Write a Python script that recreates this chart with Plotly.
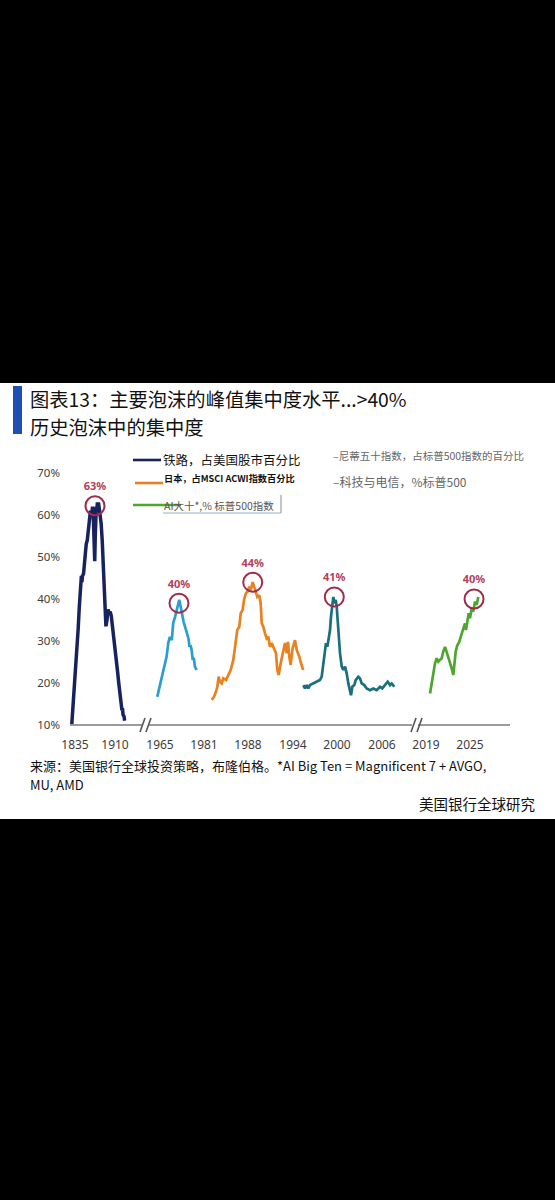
import plotly.graph_objects as go

# ---------------- data ----------------
rail_years = [1829,1830,1831,1832,1833,1835,1837,1839,1841,1843,1845,1846,1847,1848,1849,1851,1853,1855,1856,1858,
              1860,1862,1864,1866,1868,1869,1870,1871,1872,1873,1874,1875,1876,1877,1878,1879,1880,1882,1884,1886,
              1888,1890,1892,1893,1895,1897,1899,1901,1903,1905,1907,1909,1911,1913,1915,1917,1919,1920,1921,1922,
              1923,1924,1925,1927,1928]
rail_vals = [10.2,12,15,16.5,17,20,25,29,33,38,43,44.5,45.5,44,45.5,46,49,51.5,53,54,
             57,59,61,60,62,61,56,50,49,55,60,62,61,63,62,63,62,61,58,54,
             48,41,34,33.5,35,37.5,36.5,37,36,34,31,29,27,25,22.5,20,17.5,17,16,14,
             13.5,14,12.5,12,11]

nifty_years = [1964.0,1964.6,1965.2,1965.6,1966.2,1966.8,1967.4,1968.0,1968.6,1969.3,1969.8,1970.5,1971.1,1971.7,1972.0,
               1972.5,1973.1,1973.6,1974.1,1974.5,1974.9,1975.4,1975.7,1976.1,1976.5,1976.9,1977.3,1977.7,1978.3]
nifty_vals = [16.7,18.5,19.5,20.7,23,24.8,26.3,29.5,31,30.2,34.3,35.8,37.4,38.6,39.8,
              38.2,35.8,34.5,33.4,32.5,31.8,30.5,28.6,29,27.9,25.5,26,23.9,23.1]

japan_years = [1983.16,1983.47,1983.73,1983.91,1984.09,1984.27,1984.49,1984.71,1985.07,1985.37,1985.69,1986.04,1986.4,
               1986.57,1986.84,1987.03,1987.29,1987.47,1987.73,1987.91,1988.17,1988.36,1988.63,1988.84,1989.07,1989.24,
               1989.51,1989.69,1989.83,1990.04,1990.27,1990.49,1990.71,1990.93,1991.16,1991.47,1991.73,1991.91,1992.09,
               1992.36,1992.63,1992.93,1993.16,1993.33,1993.51,1993.69,1993.96,1994.27,1994.49,1994.84,1995.07,1995.37]
japan_vals = [16.0,16.7,17.9,19.1,21.5,20.3,19.9,21.1,20.7,21.9,23.1,25.5,30.2,
              32.6,33.4,36.6,37.4,39.8,41.4,41.7,42.9,42.1,44.0,42.9,41.7,40.5,
              40.9,39.0,34.2,33.4,31.8,30.6,31.0,28.6,29.5,27.9,27.1,23.1,21.9,
              24.7,27.1,29.5,27.1,29.8,26.3,24.3,28.3,30.2,27.9,26.3,24.7,23.1]

tech_years = [1995.51,1995.73,1995.96,1996.17,1996.4,1996.84,1997.29,1997.73,1997.96,1998.17,1998.4,1998.53,1998.71,
              1998.84,1999.07,1999.2,1999.37,1999.51,1999.64,1999.83,1999.96,2000.09,2000.27,2000.4,2000.63,2000.84,
              2001.07,2001.29,2001.51,2001.73,2001.87,2002.04,2002.31,2002.49,2002.84,2003.07,2003.29,2003.64,2003.96,
              2004.4,2004.84,2005.29,2005.73,2006.04,2006.4,2006.76,2007.07,2007.29,2007.64]
tech_vals = [19.5,18.7,19.5,18.7,19.5,19.9,20.3,20.7,21.5,24.7,27.9,29.5,28.6,
             30.2,32.6,35.8,39.0,40.5,39.0,39.8,38.2,35.0,31.0,27.1,23.9,23.1,
             23.9,22.3,19.9,17.9,17.1,19.1,19.5,20.7,21.5,21.1,19.9,19.5,18.7,
             18.3,18.7,18.3,19.1,18.7,19.5,20.3,19.5,19.9,19.1]

ai_years = [2019.55,2019.78,2020.0,2020.23,2020.46,2020.68,2020.91,2021.14,2021.36,2021.59,2021.73,2021.96,2022.18,
            2022.5,2022.72,2022.86,2023.05,2023.27,2023.54,2023.73,2023.95,2024.09,2024.32,2024.45,2024.63,2024.82,
            2025.0,2025.23,2025.45,2025.68,2025.91,2026.13]
ai_vals = [17.5,20.3,22.7,24.7,25.9,25.1,25.5,25.9,27.5,28.6,27.9,26.7,25.1,
           23.5,21.9,25.1,27.5,29.0,29.8,31.0,32.2,33.4,34.2,32.6,35.0,36.6,
           35.4,37.8,37.0,39.4,38.6,40.5]

# peak markers (year, value, label)
peak_years = [1872.5, 1971.9, 1988.63, 1999.64, 2025.55]
peak_vals = [62.2, 39.0, 44.0, 40.5, 40.0]
peak_labels = ["63%", "40%", "44%", "41%", "40%"]

# x tick labels per segment
seg_ticks = [[1835, 1910], [1965, 1981], [1988, 1994], [2000, 2006], [2019, 2025]]
y_ticks = [10, 20, 30, 40, 50, 60, 70]
y_ticklabels = ["10%", "20%", "30%", "40%", "50%", "60%", "70%"]

# ---------------- layout constants ----------------
W, H = 555, 1200
def X(px): return px / W
def Y(py): return 1 - py / H

# pixel positions of the two tick labels in each segment, and segment domains (px)
seg_tick_px = [[75, 115], [160, 204], [248, 293], [337, 382], [426, 470]]
seg_dom_px = [[64, 140], [150, 208], [205, 306], [300, 402], [420, 510]]

colors = ["#18225f", "#2c9dd0", "#e8811f", "#1a6f7f", "#4ea62f"]
widths = [3.5, 2.7, 2.7, 2.7, 2.7]
CIRC = "#9f2c4c"
LBL = "#b3405d"
FONT = "Noto Sans CJK SC, Noto Sans, sans-serif"

series = [(rail_years, rail_vals), (nifty_years, nifty_vals), (japan_years, japan_vals),
          (tech_years, tech_vals), (ai_years, ai_vals)]

fig = go.Figure()
axnames = ["x", "x2", "x3", "x4", "x5"]
for i, (yrs, vals) in enumerate(series):
    fig.add_trace(go.Scatter(x=yrs, y=vals, mode="lines", xaxis=axnames[i], yaxis="y",
                             line=dict(color=colors[i], width=widths[i]), showlegend=False,
                             hoverinfo="skip"))
for i in range(5):
    fig.add_trace(go.Scatter(x=[peak_years[i]], y=[peak_vals[i]], mode="markers+text",
                             xaxis=axnames[i], yaxis="y", text=[peak_labels[i]],
                             textposition="top center", cliponaxis=False,
                             textfont=dict(family="Noto Sans, sans-serif", size=11, color=LBL, weight="bold"),
                             marker=dict(symbol="circle-open", size=19, color=CIRC, line=dict(width=2, color=CIRC)),
                             showlegend=False, hoverinfo="skip"))

layout = dict(
    width=W, height=H, template="none",
    margin=dict(l=0, r=0, t=0, b=0, autoexpand=False),
    paper_bgcolor="#000000", plot_bgcolor="rgba(0,0,0,0)",
    showlegend=False, font=dict(family=FONT),
    yaxis=dict(domain=[Y(725), Y(473)], range=[10, 70], tickvals=y_ticks, ticktext=y_ticklabels,
               showgrid=False, zeroline=False, showline=False, ticks="", anchor="free", position=X(60),
               tickfont=dict(family="Noto Sans, sans-serif", size=11.5, color="#3d3d3d"), automargin=False),
)
for i in range(5):
    (t1, t2), (p1, p2), (d0, d1) = seg_ticks[i], seg_tick_px[i], seg_dom_px[i]
    k = (t2 - t1) / (p2 - p1)
    rng = [t1 + (d0 - p1) * k, t1 + (d1 - p1) * k]
    key = "xaxis" if i == 0 else f"xaxis{i+1}"
    layout[key] = dict(domain=[X(d0), X(d1)], range=rng, anchor="y", tickvals=seg_ticks[i],
                       ticktext=[str(t) for t in seg_ticks[i]], showgrid=False, zeroline=False,
                       showline=False, ticks="", ticklabelstandoff=11, automargin=False,
                       tickfont=dict(family="Noto Sans, sans-serif", size=12, color="#3d3d3d"))
fig.update_layout(**layout)

shapes = []
# white panel
shapes.append(dict(type="rect", xref="paper", yref="paper", x0=0, x1=1, y0=Y(819), y1=Y(383),
                   fillcolor="white", line=dict(width=0), layer="below"))
# title bar
shapes.append(dict(type="rect", xref="paper", yref="paper", x0=X(13), x1=X(22), y0=Y(434), y1=Y(386),
                   fillcolor="#1f4eb4", line=dict(width=0), layer="below"))
# axis line with breaks
AX = "#7a7a7a"
for a, b in [(70, 143), (149, 412), (418, 510)]:
    shapes.append(dict(type="line", xref="paper", yref="paper", x0=X(a), x1=X(b), y0=Y(725), y1=Y(725),
                       line=dict(color=AX, width=1.6)))
for bx in [(140, 146), (411, 417)]:
    for s in bx:
        shapes.append(dict(type="line", xref="paper", yref="paper", x0=X(s), x1=X(s + 5), y0=Y(732), y1=Y(718),
                           line=dict(color="#555", width=1.6)))
# legend lines
for (x0, x1, yy, c) in [(133, 161, 460, colors[0]), (135, 163, 483, colors[2]), (133, 181, 505, colors[4])]:
    shapes.append(dict(type="line", xref="paper", yref="paper", x0=X(x0), x1=X(x1), y0=Y(yy), y1=Y(yy),
                       line=dict(color=c, width=2.6), layer="above"))
# faint text box around AI legend entry
shapes.append(dict(type="line", xref="paper", yref="paper", x0=X(163), x1=X(281), y0=Y(513), y1=Y(513),
                   line=dict(color="#c9d6e3", width=2)))
shapes.append(dict(type="line", xref="paper", yref="paper", x0=X(281), x1=X(281), y0=Y(513), y1=Y(495),
                   line=dict(color="#a7b2bf", width=1.5)))
fig.update_layout(shapes=shapes)

ann = []
def text(px, py, s, size, color="#111", xanchor="left", weight="normal", family=FONT, align="left"):
    ann.append(dict(xref="paper", yref="paper", x=X(px), y=Y(py), text=s, showarrow=False,
                    xanchor=xanchor, yanchor="middle", align=align,
                    font=dict(family=family, size=size, color=color, weight=weight)))

text(28, 399, "图表13：主要泡沫的峰值集中度水平...&gt;40%", 19.3)
text(28, 427, "历史泡沫中的集中度", 19.3)
text(161, 460, "铁路，占美国股市百分比", 12.5)
text(162, 478, "日本，占MSCI ACWI指数百分比", 9.2, weight="bold")
text(162, 505, "AI大十*,% 标普500指数", 10.5, color="#555")
text(331, 455, "–尼蒂五十指数，占标普500指数的百分比", 10.5, color="#666")
text(331, 482, "–科技与电信，%标普500", 12, color="#666")
text(28, 765, "来源：美国银行全球投资策略，布隆伯格。*AI Big Ten = Magnificent 7 + AVGO,", 13)
text(28, 784, "MU, AMD", 13)
text(537, 803, "美国银行全球研究", 14.5, xanchor="right")
fig.update_layout(annotations=ann)

fig.write_html("out.html", config={"displayModeBar": False},
               post_script="document.body.style.margin='0px';document.body.style.background='#000';"
                           "document.documentElement.style.overflow='hidden';")
